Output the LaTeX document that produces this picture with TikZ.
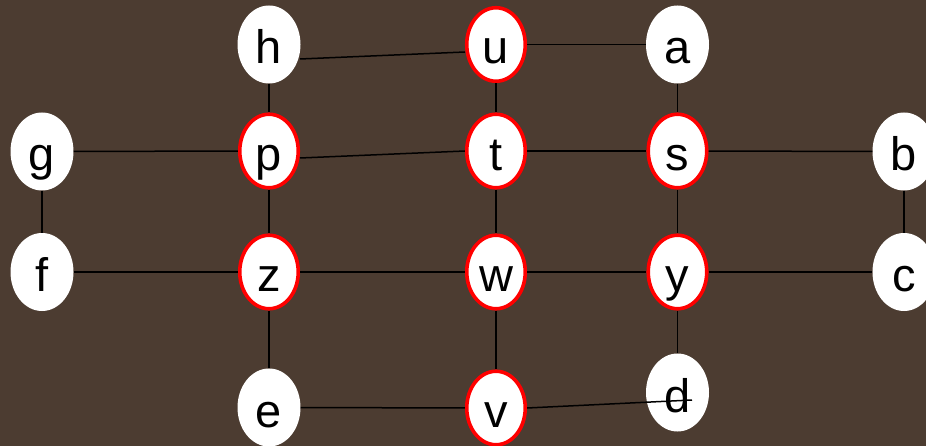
\documentclass[tikz,border=0pt]{standalone}
\usepackage{fontspec}
\setmainfont{Liberation Sans}
\usetikzlibrary{shapes.geometric,calc}
\definecolor{bg}{RGB}{76,60,49}
\begin{document}
\begin{tikzpicture}[x=1pt,y=-1pt,
  vtx/.style={ellipse, fill=white, inner sep=0pt, font=\fontsize{47}{47}\selectfont, text height=39pt, text depth=0pt},
  plainv/.style={vtx, draw=none, minimum width=63pt, minimum height=78pt},
  redv/.style={vtx, draw=red, line width=3.6pt, minimum width=58.5pt, minimum height=73.5pt},
  conn/.style={draw=black, line width=1.5pt}]
\fill[bg] (0,0) rectangle (926,446);
\useasboundingbox (0,0) rectangle (926,446);
% nodes
\node[plainv] (h) at (269,44.5) {h};
\node[redv]   (u) at (496,44.5) {u};
\node[plainv] (a) at (677.5,44.5) {a};
\node[plainv] (g) at (42,151.5) {g};
\node[redv]   (p) at (269,151) {p};
\node[redv]   (t) at (496,151) {t};
\node[redv]   (s) at (677.5,151) {s};
\node[plainv] (b) at (904,151.5) {b};
\node[plainv] (f) at (42,272) {f};
\node[redv]   (z) at (269,272) {z};
\node[redv]   (w) at (496,272) {w};
\node[redv]   (y) at (677.5,272) {y};
\node[plainv] (c) at (904,272) {c};
\node[plainv] (e) at (269,407.5) {e};
\node[redv]   (v) at (496,408) {v};
\node[plainv] (d) at (677.5,392.5) {d};
\coordinate (dend) at ($(d.center)+(14.5,7.5)$);
% edges
\draw[conn] ($(h.center)+(31,14.5)$) -- ($(u.center)+(-31,7.5)$);
\draw[conn] (u) -- (a);
\draw[conn] (h) -- (p);
\draw[conn] (u) -- (t);
\draw[conn] (a) -- (s);
\draw[conn] (g) -- (p);
\draw[conn] ($(p.center)+(31,7)$) -- (t.west);
\draw[conn] (t) -- (s);
\draw[conn] (s) -- (b);
\draw[conn] (g) -- (f);
\draw[conn] (b) -- (c);
\draw[conn] (p) -- (z);
\draw[conn] (t) -- (w);
\draw[conn] (s) -- (y);
\draw[conn] (f) -- (z);
\draw[conn] (z) -- (w);
\draw[conn] (w) -- (y);
\draw[conn] (y) -- (c);
\draw[conn] (z) -- (e);
\draw[conn] (w) -- (v);
\draw[conn] (y) -- (d);
\draw[conn] (e) -- (v);
\draw[conn] (v.east) -- (dend);
\end{tikzpicture}
\end{document}
